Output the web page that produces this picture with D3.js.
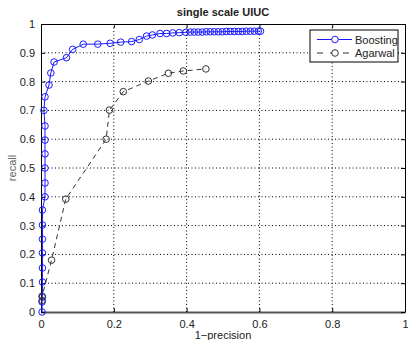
<!DOCTYPE html>
<html>
<head>
<meta charset="utf-8">
<script src="https://cdn.jsdelivr.net/npm/d3@7"></script>
<style>
  body { margin: 0; background: #fff; }
  svg { font-family: "Liberation Sans", Arial, sans-serif; }
</style>
</head>
<body>
<div class="container"></div>
<script>
// chart size, matches the 408x340 window
const width = 408;
const height = 340;
const margin = { top: 24, right: 3, bottom: 28, left: 41 };

const title = 'single scale UIUC';
const xLabel = '1\u2212precision';
const yLabel = 'recall';
const xTicks = [0, 0.2, 0.4, 0.6, 0.8, 1];
const yTicks = [0, 0.1, 0.2, 0.3, 0.4, 0.5, 0.6, 0.7, 0.8, 0.9, 1];

// Boosting curve
const boostX = [0.003, 0.003, 0.004, 0.004, 0.004, 0.004, 0.004, 0.004, 0.004, 0.011,
    0.011, 0.011, 0.011, 0.011, 0.011, 0.008, 0.011, 0.022, 0.027, 0.036,
    0.070, 0.087, 0.116, 0.156, 0.190, 0.219, 0.249, 0.270, 0.290, 0.306,
    0.327, 0.345, 0.362, 0.380, 0.398, 0.410, 0.421, 0.432, 0.443, 0.454,
    0.465, 0.476, 0.487, 0.498, 0.509, 0.520, 0.531, 0.542, 0.553, 0.564,
    0.575, 0.586, 0.597, 0.603];
const boostY = [0.000, 0.035, 0.052, 0.104, 0.153, 0.205, 0.253, 0.302, 0.354, 0.400,
    0.448, 0.500, 0.549, 0.597, 0.646, 0.700, 0.747, 0.788, 0.830, 0.868,
    0.883, 0.912, 0.930, 0.930, 0.933, 0.937, 0.939, 0.946, 0.958, 0.962,
    0.967, 0.967, 0.969, 0.970, 0.971, 0.972, 0.972, 0.972, 0.972, 0.973,
    0.973, 0.973, 0.973, 0.973, 0.974, 0.974, 0.974, 0.974, 0.974, 0.975,
    0.975, 0.975, 0.975, 0.975];

// Agarwal curve
const agarX = [0.003, 0.003, 0.029, 0.068, 0.179, 0.188, 0.226, 0.295, 0.350, 0.391, 0.453];
const agarY = [0.040, 0.055, 0.180, 0.392, 0.600, 0.701, 0.765, 0.802, 0.829, 0.837, 0.844];

const series = [
    { name: 'Boosting', xs: boostX, ys: boostY, color: '#1a1aff', dash: null },
    { name: 'Agarwal', xs: agarX, ys: agarY, color: '#333', dash: '5,4' },
];

function draw() {
    const svg = d3.select('.container')
        .append('svg')
        .attr('width', width)
        .attr('height', height);

    const x = d3.scaleLinear().domain([0, 1]).range([margin.left, width - margin.right]);
    const y = d3.scaleLinear().domain([0, 1]).range([height - margin.bottom, margin.top]);

    // dotted grid
    svg.append('g')
        .selectAll('line')
        .data(xTicks.slice(1, -1))
        .enter()
        .append('line')
        .attr('x1', d => x(d)).attr('x2', d => x(d))
        .attr('y1', y(0)).attr('y2', y(1))
        .attr('stroke', '#000')
        .attr('stroke-dasharray', '1,2.5');
    svg.append('g')
        .selectAll('line')
        .data(yTicks.slice(1, -1))
        .enter()
        .append('line')
        .attr('y1', d => y(d)).attr('y2', d => y(d))
        .attr('x1', x(0)).attr('x2', x(1))
        .attr('stroke', '#000')
        .attr('stroke-dasharray', '1,2.5');

    // axes, ticks pointing inward
    const xAxis = svg.append('g')
        .attr('transform', `translate(0,${y(0)})`)
        .call(d3.axisBottom(x).tickValues(xTicks).tickFormat(d3.format('')).tickSizeInner(-4).tickSizeOuter(0).tickPadding(8));
    const yAxis = svg.append('g')
        .attr('transform', `translate(${x(0)},0)`)
        .call(d3.axisLeft(y).tickValues(yTicks).tickFormat(d3.format('')).tickSizeInner(-4).tickSizeOuter(0).tickPadding(6));
    svg.append('g')
        .attr('transform', `translate(0,${y(1)})`)
        .call(d3.axisTop(x).tickValues(xTicks).tickFormat('').tickSizeInner(-4).tickSizeOuter(0));
    svg.append('g')
        .attr('transform', `translate(${x(1)},0)`)
        .call(d3.axisRight(y).tickValues(yTicks).tickFormat('').tickSizeInner(-4).tickSizeOuter(0));

    svg.selectAll('.domain').attr('stroke', '#000');
    xAxis.select('.domain').attr('stroke', '#555').attr('stroke-width', 2);
    svg.selectAll('.tick text')
        .attr('font-size', 11)
        .attr('font-family', '"Liberation Sans", Arial, sans-serif')
        .attr('fill', '#222');

    // series
    series.forEach(s => {
        const pts = s.xs.map((v, i) => [v, s.ys[i]]);
        const line = d3.line().x(d => x(d[0])).y(d => y(d[1]));
        svg.append('path')
            .datum(pts)
            .attr('d', line)
            .attr('fill', 'none')
            .attr('stroke', s.color)
            .attr('stroke-width', 1)
            .attr('stroke-dasharray', s.dash);
        svg.append('g')
            .selectAll('circle')
            .data(pts)
            .enter()
            .append('circle')
            .attr('cx', d => x(d[0]))
            .attr('cy', d => y(d[1]))
            .attr('r', 3.3)
            .attr('fill', 'none')
            .attr('stroke', s.color)
            .attr('stroke-width', 1);
    });

    // title and labels
    svg.append('text')
        .attr('x', (x(0) + x(1)) / 2)
        .attr('y', 16)
        .attr('text-anchor', 'middle')
        .attr('font-size', 11)
        .attr('font-weight', 'bold')
        .attr('fill', '#222')
        .text(title);
    svg.append('text')
        .attr('x', (x(0) + x(1)) / 2)
        .attr('y', 339)
        .attr('text-anchor', 'middle')
        .attr('font-size', 11)
        .attr('fill', '#222')
        .text(xLabel);
    svg.append('text')
        .attr('transform', `translate(16,${(y(0) + y(1)) / 2}) rotate(-90)`)
        .attr('text-anchor', 'middle')
        .attr('font-size', 11)
        .attr('fill', '#666')
        .text(yLabel);

    // legend
    const lg = svg.append('g').attr('transform', 'translate(310,30)');
    lg.append('rect')
        .attr('width', 88).attr('height', 32)
        .attr('fill', '#fff').attr('stroke', '#000').attr('stroke-width', 1);
    series.forEach((s, i) => {
        const ly = 9.5 + i * 13.5;
        lg.append('line')
            .attr('x1', 7).attr('x2', 42).attr('y1', ly).attr('y2', ly)
            .attr('stroke', s.color).attr('stroke-dasharray', s.dash ? '6,7' : null);
        lg.append('circle')
            .attr('cx', 25).attr('cy', ly).attr('r', 3.3)
            .attr('fill', '#fff').attr('stroke', s.color);
        lg.append('text')
            .attr('x', 45).attr('y', ly + 4)
            .attr('font-size', 11)
            .attr('fill', '#222')
            .text(s.name);
    });
}

draw();
</script>
</body>
</html>
